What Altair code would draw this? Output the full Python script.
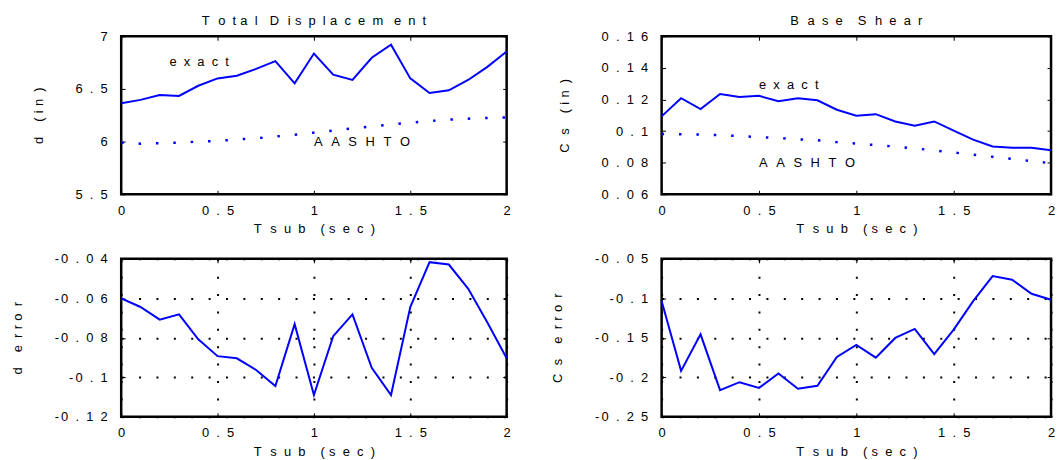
import altair as alt
import pandas as pd

# ---- data ----
tsub = [0.0, 0.1, 0.2, 0.3, 0.4, 0.5, 0.6, 0.7, 0.8, 0.9, 1.0,
        1.1, 1.2, 1.3, 1.4, 1.5, 1.6, 1.7, 1.8, 1.9, 2.0]

d_exact = [6.365, 6.396, 6.443, 6.434, 6.53, 6.60, 6.626, 6.69, 6.764, 6.553, 6.836,
           6.635, 6.585, 6.796, 6.92, 6.60, 6.462, 6.487, 6.585, 6.71, 6.855]
d_aashto = [5.99, 5.98, 5.985, 5.99, 6.0, 6.006, 6.02, 6.032, 6.048, 6.065, 6.085,
            6.105, 6.125, 6.145, 6.163, 6.18, 6.195, 6.208, 6.218, 6.225, 6.23]

cs_exact = [0.1093, 0.1208, 0.1139, 0.1235, 0.1216, 0.1223, 0.1189, 0.1208, 0.1195, 0.1135, 0.1097,
            0.1107, 0.1061, 0.1034, 0.1061, 0.1003, 0.0946, 0.0902, 0.0894, 0.0894, 0.0879]
cs_aashto = [0.0982, 0.0980, 0.0978, 0.0974, 0.0968, 0.0962, 0.0956, 0.0948, 0.0942, 0.0930, 0.0921,
             0.0911, 0.0902, 0.0890, 0.0878, 0.0864, 0.0850, 0.0837, 0.0824, 0.0810, 0.0796]

d_error = [-0.0600, -0.0644, -0.0708, -0.0681, -0.0808, -0.0893, -0.0904, -0.0963, -0.1044, -0.0731, -0.1090,
           -0.0792, -0.0681, -0.0952, -0.1090, -0.0644, -0.0417, -0.0429, -0.0551, -0.0723, -0.0904]
cs_error = [-0.1035, -0.1919, -0.1456, -0.2163, -0.2062, -0.2134, -0.1953, -0.2146, -0.2108, -0.1742, -0.1590,
            -0.1751, -0.1502, -0.1388, -0.1708, -0.1397, -0.1035, -0.0719, -0.0765, -0.0942, -0.1018]

x_ticks = [0, 0.5, 1, 1.5, 2]
d_ticks = [5.5, 6, 6.5, 7]
cs_ticks = [0.06, 0.08, 0.10, 0.12, 0.14, 0.16]
derr_ticks = [-0.12, -0.10, -0.08, -0.06, -0.04]
cserr_ticks = [-0.25, -0.20, -0.15, -0.10, -0.05]

ann_labels = ["exact", "AASHTO"]
ann_d_x = [0.25, 1.0]
ann_d_y = [6.76, 6.0]
ann_cs_x = [0.5, 0.5]
ann_cs_y = [0.129, 0.080]

FONT = "Liberation Sans"
BLUE = "#0000ff"

NARROW = set("tlifrjI()[].,:;'-|")
WIDE = set("mwMW")


def spaced(s):
    out = []
    for i, ch in enumerate(s):
        out.append(ch)
        if i == len(s) - 1:
            break
        if ch == " ":
            out.append("\u2004")
        elif ch in WIDE:
            out.append("\u2002\u2004")
        elif ch.isupper():
            out.append("\u2002\u2006")
        elif ch in NARROW:
            out.append("\u2004")
        else:
            out.append("\u2007")
    return "".join(out)


LABEL = ("(datum.value < 0 ? '-\u2006' : '') + "
         "join(split(format(abs(datum.value), '~g'), ''), '\u2007')")
XTITLE = spaced("Tsub (sec)")


def panel(exact, ydom, yticks, ytitle, width, title=None, aashto=None, ann_x=None, ann_y=None, grid=False):
    df = pd.DataFrame({"t": tsub, "v": exact})
    xs = alt.Scale(domain=[0, 2], nice=False)
    ys = alt.Scale(domain=ydom, nice=False, zero=False)
    gridkw = dict(grid=grid)
    if grid:
        gridkw.update(gridDash=[2, 15.5], gridColor="black", gridWidth=2, gridOpacity=1)
    main = alt.Chart(df).mark_line(color=BLUE, strokeWidth=2).encode(
        x=alt.X("t:Q", scale=xs, axis=alt.Axis(
            orient="bottom", values=x_ticks, offset=-4, tickSize=4, domain=False,
            labelExpr=LABEL, labelPadding=10, labelFlush=False, labelOverlap=False,
            title=XTITLE, titlePadding=6, **gridkw)),
        y=alt.Y("v:Q", scale=ys, axis=alt.Axis(
            orient="left", values=yticks, offset=-4, tickSize=4, domain=False,
            labelExpr=LABEL, labelPadding=14, labelFlush=False, labelOverlap=False,
            title=spaced(ytitle), titlePadding=30, **gridkw)),
    )
    frame = alt.Chart(df).mark_line(opacity=0).encode(
        x=alt.X("t:Q", scale=xs, axis=alt.Axis(
            orient="top", values=x_ticks, offset=-4, tickSize=4, domain=False,
            labels=False, title=None, grid=False)),
        y=alt.Y("v:Q", scale=ys, axis=alt.Axis(
            orient="right", values=yticks, offset=-4, tickSize=4, domain=False,
            labels=False, title=None, grid=False)),
    )
    layers = [main, frame]
    if aashto is not None:
        da = pd.DataFrame({"t": tsub, "v": aashto})
        layers.append(alt.Chart(da).mark_line(
            color=BLUE, strokeWidth=2.5, strokeDash=[2.5, 15], strokeCap="butt").encode(
            x=alt.X("t:Q", scale=xs, axis=None),
            y=alt.Y("v:Q", scale=ys, axis=None)))
    if ann_x is not None:
        dt = pd.DataFrame({"t": ann_x, "v": ann_y, "lab": [spaced(s) for s in ann_labels]})
        layers.append(alt.Chart(dt).mark_text(
            align="left", baseline="middle", font=FONT, fontSize=13, color="black").encode(
            x=alt.X("t:Q", scale=xs, axis=None),
            y=alt.Y("v:Q", scale=ys, axis=None),
            text="lab:N"))
    ch = alt.layer(*layers).resolve_axis(x="independent", y="independent").properties(
        width=width, height=159)
    if title:
        ch = ch.properties(title=alt.TitleParams(
            text=spaced(title), font=FONT, fontSize=13, fontWeight="normal",
            color="black", offset=2, anchor="middle"))
    return ch


p1 = panel(d_exact, [5.5, 7], d_ticks, "d (in)", 388, title="Total Displacement",
           aashto=d_aashto, ann_x=ann_d_x, ann_y=ann_d_y)
p2 = panel(cs_exact, [0.06, 0.16], cs_ticks, "Cs (in)", 392, title="Base Shear",
           aashto=cs_aashto, ann_x=ann_cs_x, ann_y=ann_cs_y)
p3 = panel(d_error, [-0.12, -0.04], derr_ticks, "d error", 388, grid=True)
p4 = panel(cs_error, [-0.25, -0.05], cserr_ticks, "Cs error", 392, grid=True)

chart = alt.concat(
    p1, p2, p3, p4, columns=2, spacing={"row": 65, "column": 156},
    bounds="flush", align="each",
).properties(
    padding={"left": 10, "top": 12, "right": 0, "bottom": 0},
    background="white",
).configure_view(
    stroke="black", strokeWidth=2.5
).configure_axis(
    labelFont=FONT, labelFontSize=13, labelColor="black",
    titleFont=FONT, titleFontSize=13, titleFontWeight="normal", titleColor="black",
    tickColor="black", tickWidth=1,
)

chart.save("out.html", embed_options={"renderer": "svg", "actions": False})
